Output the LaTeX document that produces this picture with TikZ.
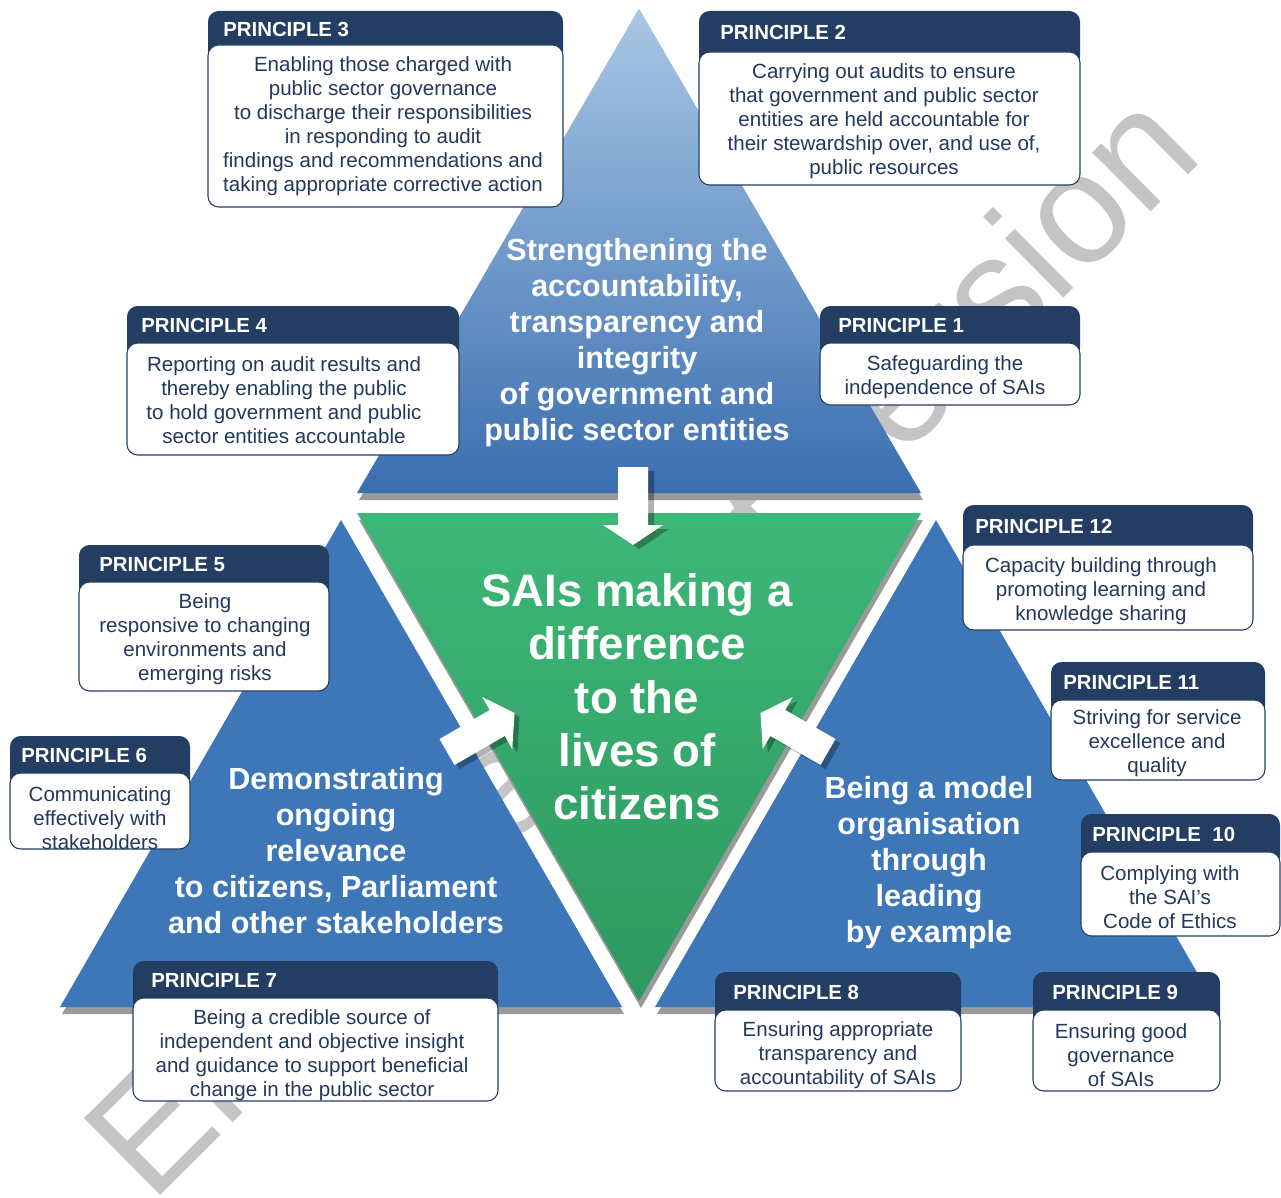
\documentclass[tikz,border=0pt]{standalone}
\usepackage{fontspec}
\setmainfont{Liberation Sans}
\definecolor{navy}{HTML}{243D63}
\definecolor{navytext}{HTML}{22385C}
\definecolor{topA}{HTML}{A9C7E5}
\definecolor{topB}{HTML}{3A6EB0}
\definecolor{triblue}{HTML}{3D77B7}
\definecolor{grA}{HTML}{3DB778}
\definecolor{grB}{HTML}{2E985F}
\definecolor{shadowgray}{HTML}{9A9A9A}
\definecolor{wmgray}{HTML}{C4C4C4}
\tikzset{
 hdrfill/.style={fill=navy, rounded corners=8pt},
 bodybox/.style={draw=navy, fill=white, line width=0.8pt, rounded corners=8pt},
 hdrtext/.style={anchor=west, inner sep=0pt, text=white, font=\bfseries\fontsize{15.3}{18}\selectfont},
 bodytext/.style={inner sep=0pt, align=center, text=navytext, yshift=-1.6pt, font=\fontsize{15.4}{18}\selectfont},
 bigtext/.style={inner sep=0pt, align=center, text=white, font=\bfseries\fontsize{22.9}{27}\selectfont},
 centertext/.style={inner sep=0pt, align=center, text=white, font=\bfseries\fontsize{34.2}{40}\selectfont},
 wmark/.style={anchor=base west, rotate=44.8, inner sep=0pt, text=wmgray, font=\fontsize{118}{120}\selectfont},
 tshadow/.style={fill=shadowgray, shift={(2,7)}},
 arrowwhite/.pic={\fill[white] (0,-15) -- (58,-15) -- (58,-30) -- (78,0) -- (58,30) -- (58,15) -- (0,15) -- cycle;},
 arrowshade/.pic={\fill[black, opacity=0.3] (0,-15) -- (58,-15) -- (58,-30) -- (78,0) -- (58,30) -- (58,15) -- (0,15) -- cycle;},
}
% #1 name, #2 x1, #3 x2, #4 header top, #5 body top, #6 body bottom, #7 label, #8 label offset
\newcommand\pbox[8]{%
  \fill[hdrfill] (#2,#4) rectangle (#3,#5+16);
  \draw[bodybox] (#2,#5) rectangle (#3,#6);
  \node[hdrtext] (#1h) at (#2+#8, {(#4+#5)/2+1}) {#7};
}
\begin{document}
\begin{tikzpicture}[x=0.75pt,y=-0.75pt]
\useasboundingbox (0,0) rectangle (1281,1198);
\clip (0,0) rectangle (1281,1198);
\fill[white] (0,0) rectangle (1281,1198);
% watermark
\node[wmark] (wm) at (151,1205) {Endorsement version};
% triangle shadows
\fill[tshadow] (357,493) -- (921,493) -- (639,8.5) -- cycle;
\fill[tshadow] (357,513) -- (921,513) -- (639,1001) -- cycle;
\fill[tshadow] (60,1007) -- (622,1007) -- (341,520) -- cycle;
\fill[tshadow] (655,1007) -- (1217,1007) -- (936,520) -- cycle;
% triangles
\shade[top color=topA, bottom color=topB] (357,493) -- (921,493) -- (639,8.5) -- cycle;
\shade[top color=grA, bottom color=grB] (357,513) -- (921,513) -- (639,1001) -- cycle;
\fill[triblue] (60,1007) -- (622,1007) -- (341,520) -- cycle;
\fill[triblue] (655,1007) -- (1217,1007) -- (936,520) -- cycle;
% arrows
\pic[rotate=-90] at (639,471) {arrowshade};
\pic[rotate=-90] at (633,467) {arrowwhite};
\pic[rotate=30] at (452,756) {arrowshade};
\pic[rotate=30] at (447,752) {arrowwhite};
\pic[rotate=150] at (833,756) {arrowshade};
\pic[rotate=150] at (828,752) {arrowwhite};
% triangle texts
\node[bigtext] (top) at (637,343) {Strengthening the\\accountability,\\transparency and\\integrity\\of government and\\public sector entities};
\node[centertext] (mid) at (637,697) {SAIs making a\\difference\\to the\\lives of\\citizens};
\node[bigtext] (left) at (336,850.5) {Demonstrating\\ongoing\\relevance\\to citizens, Parliament\\and other stakeholders};
\node[bigtext] (right) at (929,863) {Being a model\\organisation\\through\\leading\\by example};
% principle boxes
\pbox{p3}{208}{563}{11}{45}{207}{PRINCIPLE 3}{15}
\node[bodytext] (p3t) at (383,124.5) {Enabling those charged with\\public sector governance\\to discharge their responsibilities\\in responding to audit\\findings and recommendations and\\taking appropriate corrective action};
\pbox{p2}{699}{1080}{11}{52}{185}{PRINCIPLE 2}{21}
\node[bodytext] (p2t) at (884,119.5) {Carrying out audits to ensure\\that government and public sector\\entities are held accountable for\\their stewardship over, and use of,\\public resources};
\pbox{p4}{127}{459}{306}{343}{455}{PRINCIPLE 4}{14}
\node[bodytext] (p4t) at (284,398.5) {Reporting on audit results and\\thereby enabling the public\\to hold government and public\\sector entities accountable};
\pbox{p1}{820}{1080}{306}{343}{405}{PRINCIPLE 1}{18}
\node[bodytext] (p1t) at (945,375) {Safeguarding the\\independence of SAIs};
\pbox{p12}{963}{1253}{505}{545}{630}{PRINCIPLE 12}{12}
\node[bodytext] (p12t) at (1101,589) {Capacity building through\\promoting learning and\\knowledge sharing};
\pbox{p5}{79}{329}{545}{582}{691}{PRINCIPLE 5}{20}
\node[bodytext] (p5t) at (205,637.5) {Being\\responsive to changing\\environments and\\emerging risks};
\pbox{p11}{1051}{1265}{662}{700}{780}{PRINCIPLE 11}{12}
\node[bodytext] (p11t) at (1157,741) {Striving for service\\excellence and\\quality};
\pbox{p6}{10}{190}{736}{773}{849}{PRINCIPLE 6}{11}
\node[bodytext] (p6t) at (100,816.5) {Communicating\\effectively with\\stakeholders};
\pbox{p10}{1081}{1280}{814}{852}{936}{PRINCIPLE\ \ 10}{11}
\node[bodytext] (p10t) at (1170,895.5) {Complying with\\the SAI’s\\Code of Ethics};
\pbox{p7}{133}{498}{961}{998}{1101}{PRINCIPLE 7}{18}
\node[bodytext] (p7t) at (312,1053.5) {Being a credible source of\\independent and objective insight\\and guidance to support beneficial\\change in the public sector};
\pbox{p8}{715}{961}{972}{1010}{1091}{PRINCIPLE 8}{18}
\node[bodytext] (p8t) at (838,1053) {Ensuring appropriate\\transparency and\\accountability of SAIs};
\pbox{p9}{1033}{1220}{972}{1010}{1091}{PRINCIPLE 9}{19}
\node[bodytext] (p9t) at (1121,1053) {Ensuring good\\governance\\of SAIs};
\end{tikzpicture}
\end{document}
